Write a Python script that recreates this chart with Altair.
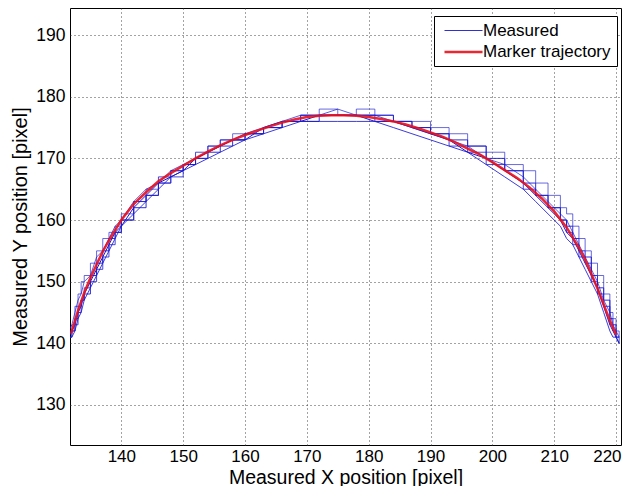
import altair as alt
import pandas as pd

# Marker trajectory (red)
traj_x = [131.9, 132, 133, 134, 135, 136, 137, 138, 140, 142, 144, 146, 148, 150, 152, 154, 156, 158,
          160, 162, 164, 166, 168, 170, 172, 174, 176, 178, 180, 182, 184, 186, 188, 190, 192,
          194, 196, 198, 200, 202, 204, 206, 208, 210, 212, 214, 215, 216, 217, 218, 219, 220]
traj_y = [141.6, 142.0, 145.3, 148.2, 150.6, 152.8, 154.9, 156.7, 160.0, 162.6, 164.5, 166.3, 167.6,
          168.8, 170.0, 171.1, 172.1, 173.0, 173.8, 174.5, 175.2, 175.8, 176.3, 176.7, 176.9, 177.0,
          177.0, 176.9, 176.7, 176.4, 176.0, 175.5, 174.9, 174.2, 173.5, 172.6, 171.6, 170.6, 169.4,
          168.1, 166.8, 165.3, 163.5, 161.4, 158.8, 155.5, 153.6, 151.3, 148.9, 146.3, 143.7, 141.4]

# Measured traces (blue)
meas_x = [131.5, 132, 132.5, 133, 133.5, 134, 135, 136, 137, 138, 139, 140, 142, 144, 146, 148, 150,
          152, 154, 156, 158, 160, 163, 166, 169, 172, 175, 178, 181, 184, 187, 190, 193, 196, 199,
          202, 205, 207, 209, 211, 212, 213, 214, 215, 216, 217, 218, 219, 219.5, 220, 220.5]
meas_1 = [141, 142, 143, 145, 146, 148, 150, 152, 154, 156, 158, 159, 162, 164, 166, 167, 168, 170,
          171, 172, 173, 173, 175, 176, 176, 177, 177, 177, 176, 176, 175, 174, 173, 171, 170, 168,
          166, 164, 162, 160, 158, 157, 155, 153, 151, 149, 146, 143, 142, 141, 140]
meas_2 = [142, 143, 145, 147, 148, 150, 151, 154, 155, 157, 159, 160, 163, 165, 166, 168, 169, 170,
          171, 172, 173, 174, 175, 176, 177, 177, 178, 177, 177, 176, 175, 174, 173, 172, 170, 169,
          167, 165, 163, 161, 160, 158, 156, 154, 152, 150, 147, 145, 143, 142, 141]
meas_3 = [141, 141, 142, 144, 145, 147, 149, 151, 153, 155, 157, 159, 161, 163, 165, 167, 168, 169,
          170, 171, 172, 173, 174, 175, 176, 176, 176, 176, 176, 175, 174, 173, 172, 171, 169, 167,
          165, 163, 161, 159, 157, 156, 154, 152, 150, 148, 145, 142, 141, 141, 140]
meas_4 = [141, 143, 146, 148, 150, 151, 153, 155, 157, 158, 159, 161, 163, 165, 166, 168, 169, 170,
          172, 173, 174, 174, 175, 176, 177, 178, 177, 178, 177, 176, 176, 175, 174, 172, 171, 169,
          168, 166, 164, 162, 161, 159, 157, 155, 153, 151, 148, 145, 144, 142, 141]
meas_5 = [142, 142, 144, 145, 147, 148, 151, 153, 155, 157, 158, 160, 162, 164, 166, 168, 169, 170,
          171, 172, 173, 174, 175, 176, 176, 177, 177, 177, 177, 176, 175, 174, 173, 172, 170, 168,
          166, 164, 162, 160, 159, 157, 155, 154, 151, 149, 147, 144, 143, 141, 141]
meas_6 = [141, 142, 143, 146, 147, 149, 150, 152, 154, 156, 158, 160, 163, 164, 167, 167, 169, 171,
          172, 173, 173, 174, 175, 176, 177, 177, 177, 177, 176, 176, 175, 174, 172, 171, 169, 168,
          165, 164, 162, 160, 158, 156, 154, 153, 150, 148, 146, 143, 142, 141, 140]

x_ticks = [140, 150, 160, 170, 180, 190, 200, 210, 220]
y_ticks = [130, 140, 150, 160, 170, 180, 190]

series_names = ["Measured", "Marker trajectory"]

rows_a, rows_b = [], []
for i, tr in enumerate([meas_1, meas_2, meas_3]):
    for xv, yv in zip(meas_x, tr):
        rows_a.append({"x": xv, "y": yv, "trace": f"a{i}", "series": "Measured", "op": [1.0, 0.7, 0.85][i]})
for i, tr in enumerate([meas_4, meas_5, meas_6]):
    for xv, yv in zip(meas_x, tr):
        rows_b.append({"x": xv, "y": yv, "trace": f"b{i}", "series": "Measured", "op": [0.65, 0.9, 0.8][i]})
df_a = pd.DataFrame(rows_a)
df_b = pd.DataFrame(rows_b)
df_r = pd.DataFrame({"x": traj_x, "y": traj_y, "series": "Marker trajectory", "trace": "r", "op": 1.0})

xs = alt.Scale(domain=[131.7, 220.8], nice=False, zero=False)
ys = alt.Scale(domain=[123.5, 194.4], nice=False, zero=False)

xax = alt.Axis(values=x_ticks, title="Measured X position [pixel]", format="d",
               labelAlign={"condition": {"test": "datum.value >= 220", "value": "right"}, "value": "center"},
               labelOffset={"condition": {"test": "datum.value >= 220", "value": 5}, "value": 0},
               labelPadding=3, labelFontSize=17, titleFontSize=19.5,
               titleY=38, titleBaseline="alphabetic")
yax = alt.Axis(values=y_ticks, title="Measured Y position [pixel]", format="d")


def leg():
    return alt.Legend(title=None, orient="none", legendX=364, legendY=8,
                      symbolType="M-0.6,0H4.47", symbolSize=225, labelFontSize=17,
                      labelOffset=25, padding=6, rowPadding=4,
                      strokeColor="black", fillColor="white", labelColor="black",
                      cornerRadius=0, labelLimit=300)


def col():
    return alt.Color("series:N", scale=alt.Scale(domain=series_names, range=["#1a1ad0", "#e8101c"]),
                     legend=leg())


sw = alt.StrokeWidth("series:N", scale=alt.Scale(domain=series_names, range=[1, 2.5]), legend=leg())


def blue(df, interp):
    return alt.Chart(df).mark_line(interpolate=interp, clip=True).encode(
        x=alt.X("x:Q", scale=xs, axis=xax),
        y=alt.Y("y:Q", scale=ys, axis=yax),
        color=col(),
        strokeWidth=sw,
        detail="trace:N",
        opacity=alt.Opacity("op:Q", scale=None, legend=None),
        order=alt.Order("x:Q"),
    )


red = alt.Chart(df_r).mark_line(clip=True).encode(
    x=alt.X("x:Q", scale=xs, axis=xax),
    y=alt.Y("y:Q", scale=ys, axis=yax),
    color=col(),
    strokeWidth=sw,
    opacity=alt.value(0.9),
    order=alt.Order("x:Q"),
)

chart = alt.layer(blue(df_a, "linear"), blue(df_b, "step-after"), red).properties(
    width=551, height=437,
    autosize=alt.AutoSizeParams(type="none"),
    padding={"left": 62, "top": 0, "right": 1, "bottom": 41},
).configure(font="Liberation Sans").configure_view(
    stroke="black", strokeWidth=1
).configure_axis(
    grid=True, gridColor="#333333", gridDash=[1, 3], gridOpacity=0.9, gridWidth=1,
    domain=False, ticks=False, labelFontSize=17.5, titleFontSize=20, labelColor="black",
    titleColor="black", titleFontWeight="normal", labelPadding=5, titlePadding=2,
).configure_axisY(titlePadding=5)

chart.save("out.html", embed_options={"renderer": "svg", "actions": False})
